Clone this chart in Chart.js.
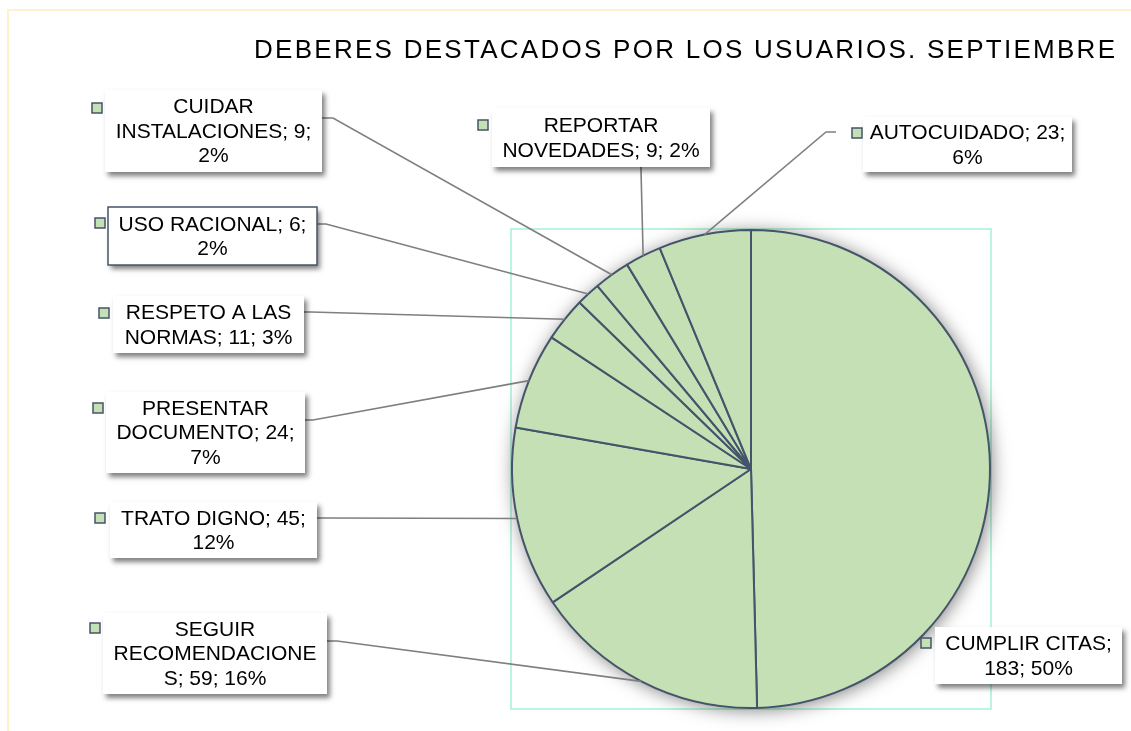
<!DOCTYPE html>
<html>
<head>
<meta charset="utf-8">
<script src="https://cdn.jsdelivr.net/npm/chart.js@4.4.0/dist/chart.umd.min.js"></script>
<style>
  html, body { margin: 0; padding: 0; background: #fff; }
  canvas { display: block; }
</style>
</head>
<body>
<canvas id="deberesChart" width="1131" height="731"></canvas>
<script>
const chartTitle = 'DEBERES DESTACADOS POR LOS USUARIOS. SEPTIEMBRE';
const categories = [
  'CUMPLIR CITAS',
  'SEGUIR RECOMENDACIONES',
  'TRATO DIGNO',
  'PRESENTAR DOCUMENTO',
  'RESPETO A LAS NORMAS',
  'USO RACIONAL',
  'CUIDAR INSTALACIONES',
  'REPORTAR NOVEDADES',
  'AUTOCUIDADO',
];
const counts = [183, 59, 45, 24, 11, 6, 9, 9, 23];

// where each data label sits (same order as categories)
const labelBoxes = [
  { x: 935, y: 627, w: 187, h: 57, marker: [921, 638] },
  { x: 103, y: 613, w: 224, h: 81, marker: [90, 623], attach: [327, 641], elbow: [337, 641] },
  { x: 110, y: 502, w: 207, h: 56, marker: [95, 513], attach: [317, 518], elbow: [325, 518] },
  { x: 106, y: 392, w: 199, h: 81, marker: [93, 403], attach: [305, 420], elbow: [313, 420] },
  { x: 113, y: 296, w: 191, h: 57, marker: [99, 308], attach: [304, 312], elbow: [311, 312] },
  { x: 108, y: 207, w: 209, h: 58, marker: [95, 218], attach: [317, 224], elbow: [326, 224], border: true },
  { x: 105, y: 90, w: 217, h: 82, marker: [92, 103], attach: [322, 118], elbow: [333, 118] },
  { x: 492, y: 108, w: 218, h: 59, marker: [478, 120], attach: [641, 167], elbow: [641, 170] },
  { x: 863, y: 117, w: 209, h: 55, marker: [852, 128], attach: [836, 132], elbow: [826, 132] },
];

const FONT = '"Liberation Sans", Arial, sans-serif';
const SLICE_FILL = '#C5E0B4';
const SLICE_LINE = '#44546A';

function wrapText(ctx, text, maxWidth) {
  const lines = [];
  let line = '';
  text.split(' ').forEach((word) => {
    const test = line ? `${line} ${word}` : word;
    if (ctx.measureText(test).width <= maxWidth) {
      line = test;
      return;
    }
    if (line) lines.push(line);
    line = '';
    // word too long for a line on its own: break it by characters
    let rest = word;
    while (ctx.measureText(rest).width > maxWidth) {
      let n = rest.length - 1;
      while (n > 1 && ctx.measureText(rest.slice(0, n)).width > maxWidth) n--;
      lines.push(rest.slice(0, n));
      rest = rest.slice(n);
    }
    line = rest;
  });
  if (line) lines.push(line);
  return lines;
}

const deberesPlugin = {
  id: 'deberes',
  beforeDraw(chart) {
    const { ctx, chartArea } = chart;
    ctx.save();
    ctx.fillStyle = '#fff';
    ctx.fillRect(0, 0, chart.width, chart.height);

    // outer frame, only top and left edges fall inside the picture
    ctx.strokeStyle = '#FFF1CC';
    ctx.lineWidth = 2;
    ctx.strokeRect(8, 10, chart.width + 20, chart.height + 20);

    // plot area
    ctx.strokeStyle = '#A4F2D2';
    ctx.lineWidth = 1.5;
    ctx.strokeRect(chartArea.left, chartArea.top, chartArea.width, chartArea.height);

    // title with letter spacing
    ctx.font = `26px ${FONT}`;
    ctx.fillStyle = '#000';
    ctx.textBaseline = 'middle';
    ctx.textAlign = 'left';
    const plain = ctx.measureText(chartTitle).width;
    ctx.letterSpacing = `${(861 - plain) / (chartTitle.length - 1)}px`;
    ctx.fillText(chartTitle, 254, 51);
    ctx.letterSpacing = '0px';
    ctx.restore();
  },
  beforeDatasetsDraw(chart) {
    // soft shadow under the whole pie
    const el = chart.getDatasetMeta(0).data[0];
    const { ctx } = chart;
    ctx.save();
    ctx.shadowColor = 'rgba(0, 0, 0, 0.5)';
    ctx.shadowBlur = 18;
    ctx.shadowOffsetX = 2;
    ctx.shadowOffsetY = 2;
    ctx.fillStyle = SLICE_FILL;
    ctx.beginPath();
    ctx.arc(el.x, el.y, el.outerRadius, 0, Math.PI * 2);
    ctx.fill();
    ctx.restore();
  },
  afterDatasetsDraw(chart) {
    const { ctx } = chart;
    const meta = chart.getDatasetMeta(0);
    const total = counts.reduce((a, b) => a + b, 0);
    ctx.save();

    // leader lines from the middle of each slice edge
    ctx.strokeStyle = '#7F7F7F';
    ctx.lineWidth = 1.6;
    labelBoxes.forEach((box, i) => {
      if (!box.attach) return;
      const el = meta.data[i];
      const mid = (el.startAngle + el.endAngle) / 2;
      ctx.beginPath();
      ctx.moveTo(el.x + Math.cos(mid) * el.outerRadius, el.y + Math.sin(mid) * el.outerRadius);
      ctx.lineTo(box.elbow[0], box.elbow[1]);
      ctx.lineTo(box.attach[0], box.attach[1]);
      ctx.stroke();
    });

    ctx.font = `21px ${FONT}`;
    labelBoxes.forEach((box, i) => {
      ctx.save();
      ctx.shadowColor = 'rgba(0, 0, 0, 0.5)';
      ctx.shadowBlur = 5;
      ctx.shadowOffsetX = 3;
      ctx.shadowOffsetY = 4;
      ctx.fillStyle = '#fff';
      ctx.fillRect(box.x, box.y, box.w, box.h);
      ctx.restore();
      if (box.border) {
        ctx.strokeStyle = SLICE_LINE;
        ctx.lineWidth = 1.5;
        ctx.strokeRect(box.x, box.y, box.w, box.h);
      }

      // legend key
      ctx.fillStyle = SLICE_FILL;
      ctx.strokeStyle = SLICE_LINE;
      ctx.lineWidth = 1.5;
      ctx.fillRect(box.marker[0], box.marker[1], 10, 10);
      ctx.strokeRect(box.marker[0], box.marker[1], 10, 10);

      const pct = Math.round((counts[i] / total) * 100);
      const text = `${categories[i]}; ${counts[i]}; ${pct}%`;
      const lines = wrapText(ctx, text, box.w - 8);
      const lineHeight = 24.5;
      const top = box.y + box.h / 2 - ((lines.length - 1) * lineHeight) / 2;
      ctx.fillStyle = '#000';
      ctx.textAlign = 'center';
      ctx.textBaseline = 'middle';
      lines.forEach((line, k) => {
        ctx.fillText(line, box.x + box.w / 2, top + k * lineHeight + 1);
      });
    });
    ctx.restore();
  },
};

const ctx = document.getElementById('deberesChart');
const deberesChart = new Chart(ctx, {
  type: 'pie',
  data: {
    labels: categories,
    datasets: [{
      data: counts,
      backgroundColor: SLICE_FILL,
      borderColor: SLICE_LINE,
      borderWidth: 2,
    }],
  },
  options: {
    responsive: false,
    devicePixelRatio: 1,
    animation: false,
    events: [],
    layout: {
      padding: { left: 511, top: 229, right: 140, bottom: 22 },
    },
    plugins: {
      legend: { display: false },
      tooltip: { enabled: false },
      title: { display: false },
    },
  },
  plugins: [deberesPlugin],
});
</script>
</body>
</html>
